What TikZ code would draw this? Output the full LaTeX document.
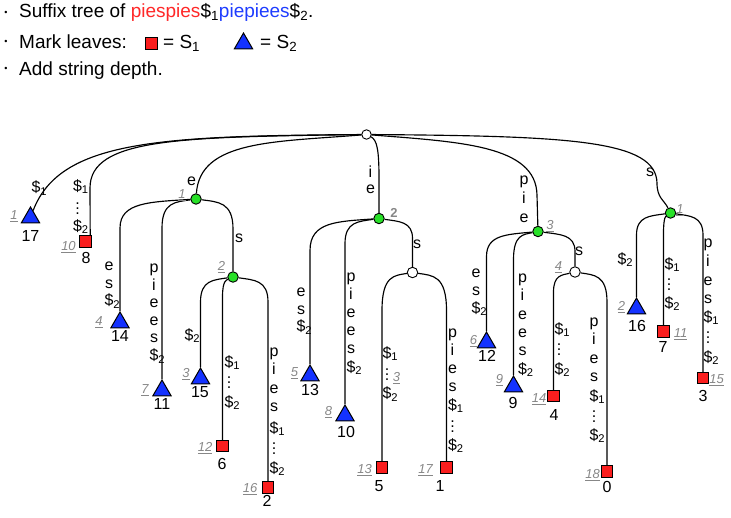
\documentclass[tikz,border=0pt]{standalone}
\usepackage{fontspec}
\setmainfont{Liberation Sans}
\usetikzlibrary{calc,shapes.geometric}
\definecolor{tred}{RGB}{250,30,30}
\definecolor{tblue}{RGB}{20,50,255}
\definecolor{tgreen}{RGB}{40,225,40}
\definecolor{tgray}{RGB}{135,135,135}
\definecolor{hred}{RGB}{255,40,40}
\definecolor{hblue}{RGB}{30,60,255}
\newcommand\SD[1]{\$\rlap{\textsubscript{#1}}}
\newcommand\VD{\raisebox{-1pt}{\vbox{\baselineskip5pt\lineskiplimit0pt\hbox{.}\hbox{.}\hbox{.}}}}
\newcommand\stk[4]{\foreach \sdy/\stx [count=\sii] in {#4} {\node[lab] (#1-\sii) at (#2,{#3+\sdy}) {\stx};}}
\newcommand\tb[3]{\draw[edge] (#1) .. controls ($(#1)!0.6!(#1 -| #2)+(0,3)$) and ($(#1 -| #2)+(0,3)$) .. ($(#1 -| #2)+(0,#3)$) -- (#2.north);}
\tikzset{
 edge/.style={line width=1.15pt, black},
 tri/.style={regular polygon, regular polygon sides=3, minimum size=21pt, inner sep=0pt, draw=black, line width=1pt, fill=tblue},
 sq/.style={rectangle, minimum size=11.5pt, inner sep=0pt, draw=black, line width=0.9pt, fill=tred},
 inn/.style={circle, minimum size=10.5pt, inner sep=0pt, draw=black, line width=0.9pt, fill=tgreen},
 wht/.style={inn, fill=white},
 lab/.style={inner sep=0pt, font=\fontsize{16}{18}\selectfont, anchor=base},
 num/.style={inner sep=0pt, font=\fontsize{16}{18}\selectfont},
 gnum/.style={inner sep=0pt, font=\fontsize{13}{15}\selectfont\itshape, text=tgray},
 head/.style={inner sep=0pt, font=\fontsize{19}{22}\selectfont, anchor=base west},
 bul/.style={inner sep=0pt, font=\fontsize{9}{10}\selectfont},
}
\begin{document}
\begin{tikzpicture}[x=1pt,y=-1pt]
\useasboundingbox (0,0) rectangle (731,517);
% header
\node[bul] (b1) at (6,13.5) {\textbullet};
\node[bul] (b2) at (6,42) {\textbullet};
\node[bul] (b3) at (6,69) {\textbullet};
\node[head] (h1) at (19,17.5) {Suffix tree of \textcolor{hred}{piespies}\$\textsubscript{1}\textcolor{hblue}{piepiees}\$\textsubscript{2}.};
\node[head] (h2) at (19,48) {Mark leaves:};
\node[sq, minimum size=12pt] (hs) at (151,43.5) {};
\node[head] (h2b) at (163,48) {= S\textsubscript{1}};
\node[tri] (ht) at (243.5,43.5) {};
\node[head] (h2c) at (260,48) {= S\textsubscript{2}};
\node[head] (h3) at (19,75) {Add string depth.};
% internal nodes
\node[wht, minimum size=9.5pt] (root) at (366.5,134.5) {};
\node[inn] (ge) at (196,199) {};
\node[inn] (g2) at (233,277) {};
\node[inn] (gie) at (379,218.5) {};
\node[wht] (ws) at (412.5,272.5) {};
\node[inn] (gpie) at (538,231.5) {};
\node[wht] (w4) at (575,272) {};
\node[inn] (gs) at (670.5,213) {};
% leaves
\node[tri] (t17) at (30.5,217.5) {};
\node[sq] (s8) at (85.5,241.5) {};
\node[tri] (t14) at (120,322.5) {};
\node[tri] (t11) at (162,390.5) {};
\node[tri] (t15) at (200.5,378.5) {};
\node[sq] (s6) at (222.5,446) {};
\node[sq] (s2) at (268,487.5) {};
\node[tri] (t13) at (310,375.5) {};
\node[tri] (t10) at (345,415.5) {};
\node[sq] (s5) at (382,467.5) {};
\node[sq] (s1) at (446.5,467.5) {};
\node[tri] (t12) at (486.5,342.5) {};
\node[tri] (t9) at (513.5,386.5) {};
\node[sq] (s4) at (553.5,396) {};
\node[sq] (s0) at (607,471.5) {};
\node[tri] (t16) at (636.5,308.5) {};
\node[sq] (s7) at (663.5,331.5) {};
\node[sq] (s3) at (703,378) {};
% root edges
\draw[edge] (root) .. controls (160,136) and (60,140) .. (t17);
\draw[edge] (root) .. controls (180,137) and (90,138) .. (90,188) -- ([xshift=-1.5pt]s8.north east);
\draw[edge] (root) .. controls (275,142) and (200,140) .. (ge);
\draw[edge] (root) .. controls (377,140) and (379,150) .. (379,178) -- (gie);
\draw[edge] (root) .. controls (460,142) and (536,145) .. (537,195) -- (gpie);
\draw[edge] (root) .. controls (570,136) and (656,140) .. (657,183) .. controls (657,198) and (664,200) .. (gs);
% subtree edges
\tb{ge}{t14}{29}
\tb{ge}{t11}{29}
\tb{ge}{g2}{30}
\tb{g2}{t15}{25}
\tb{g2}{s6}{20}
\tb{g2}{s2}{25}
\tb{gie}{t13}{32}
\tb{gie}{t10}{25}
\tb{gie}{ws}{20}
\tb{ws}{s5}{38}
\tb{ws}{s1}{38}
\tb{gpie}{t12}{25}
\tb{gpie}{t9}{28}
\tb{gpie}{w4}{20}
\tb{w4}{s4}{20}
\tb{w4}{s0}{30}
\tb{gs}{t16}{22}
\tb{gs}{s7}{20}
\tb{gs}{s3}{22}
% edge labels
\stk{la}{36}{192.5}{0/\SD1}
\stk{lb}{77.5}{191}{0/\SD1, 22/\VD, 40/\SD2}
\stk{lc}{191.5}{185}{0/e}
\stk{ld}{370.5}{177}{0/i, 16.5/e}
\stk{lf}{524}{184.5}{0/p, 18.5/i, 37.5/e}
\stk{lg}{650}{176}{0/s}
\stk{lh}{109}{270}{0/e, 18/s, 35.5/\SD2}
\stk{lk}{154}{272.5}{0/p, 17.6/i, 35.2/e, 52.8/e, 70.4/s, 88/\SD2}
\stk{lm}{239}{242}{0/s}
\stk{lq}{189}{340}{0/\SD2}
\stk{lr}{229}{367}{0/\SD1, 20/\VD, 40/\SD2}
\stk{lt}{274}{356}{0/p, 18.5/i, 37/e, 55.5/s, 77/\SD1, 97/\VD, 117/\SD2}
\stk{lu}{301}{296.5}{0/e, 18/s, 35/\SD2}
\stk{lv}{351}{281.5}{0/p, 18/i, 35.5/e, 53.5/e, 71.5/s, 90.5/\SD2}
\stk{lw}{417}{248}{0/s}
\stk{lx}{387}{358}{0/\SD1, 21/\VD, 40.5/\SD2}
\stk{ly}{452.5}{337.5}{0/p, 18/i, 35.5/e, 54/s, 72.5/\SD1, 94/\VD, 112.5/\SD2}
\stk{lz}{476}{277}{0/e, 18/s, 36/\SD2}
\stk{laa}{522.5}{282.5}{0/p, 18/i, 37/e, 54.5/e, 72.5/s, 91.5/\SD2}
\stk{lab}{579}{255}{0/s}
\stk{lac}{559}{334}{0/\SD1, 20/\VD, 40/\SD2}
\stk{lad}{594}{326}{0/p, 18/i, 37/e, 55/s, 75/\SD1, 95/\VD, 114/\SD2}
\stk{lae}{622}{264}{0/\SD2}
\stk{laf}{669}{269}{0/\SD1, 20/\VD, 39/\SD2}
\stk{lag}{708}{247.5}{0/p, 19/i, 37.5/e, 55.5/s, 74.5/\SD1, 95/\VD, 114.5/\SD2}
% leaf numbers
\node[num] (n17) at (30.5,236) {17};
\node[num] (n8) at (86,257.5) {8};
\node[num] (n14) at (120,336) {14};
\node[num] (n11) at (162,404) {11};
\node[num] (n15) at (200,392) {15};
\node[num] (n6) at (222,464) {6};
\node[num] (n2) at (267,501) {2};
\node[num] (n13) at (310,390) {13};
\node[num] (n10) at (346,432) {10};
\node[num] (n5) at (379,486) {5};
\node[num] (n1) at (440,486) {1};
\node[num] (n12) at (487,356) {12};
\node[num] (n9) at (513,403) {9};
\node[num] (n4) at (554,415) {4};
\node[num] (n0) at (607,487) {0};
\node[num] (n16) at (637,326) {16};
\node[num] (n7) at (663,347) {7};
\node[num] (n3) at (703,396) {3};
% string depths
\node[gnum] (d17) at (14,216) {\underline{1}};
\node[gnum] (d8) at (68.5,247) {\underline{10}};
\node[gnum] (dge) at (182,195) {\underline{1}};
\node[gnum] (d14) at (99,322) {\underline{4}};
\node[gnum] (d11) at (145,390) {\underline{7}};
\node[gnum] (dg2) at (221.5,267) {\underline{2}};
\node[gnum] (d15) at (186,374) {\underline{3}};
\node[gnum] (d6) at (205,448) {\underline{12}};
\node[gnum] (d2) at (250,489) {\underline{16}};
\node[gnum, font=\fontsize{13}{15}\selectfont\bfseries] (dgie) at (394,213) {2};
\node[gnum] (d13) at (294.5,373.5) {\underline{5}};
\node[gnum] (d10) at (328.5,412) {\underline{8}};
\node[gnum] (dws) at (396.5,378.5) {\underline{3}};
\node[gnum] (d5) at (364.5,470) {\underline{13}};
\node[gnum] (d1) at (425.5,470) {\underline{17}};
\node[gnum] (dgpie) at (550,226.5) {\underline{3}};
\node[gnum] (d12) at (473.5,341) {\underline{6}};
\node[gnum] (d9) at (499.5,380) {\underline{9}};
\node[gnum] (dw4) at (558.5,267.5) {\underline{4}};
\node[gnum] (d4) at (539,399) {\underline{14}};
\node[gnum] (d0) at (592.5,475) {\underline{18}};
\node[gnum] (dgs) at (680,210) {\underline{1}};
\node[gnum] (d16) at (621.5,307) {\underline{2}};
\node[gnum] (d7) at (680.5,334) {\underline{11}};
\node[gnum] (d3) at (716.5,380) {\underline{15}};
\end{tikzpicture}
\end{document}
